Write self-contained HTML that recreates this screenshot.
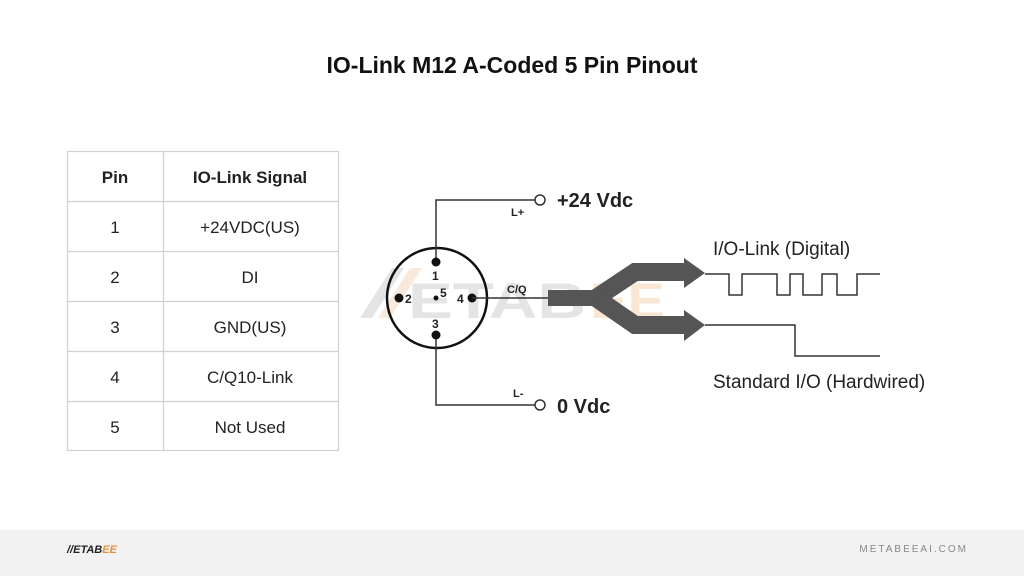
<!DOCTYPE html>
<html><head><meta charset="utf-8"><style>
html,body{margin:0;padding:0;background:#fff;}
body{width:1024px;height:576px;position:relative;overflow:hidden;font-family:"Liberation Sans",sans-serif;}
svg text{font-family:"Liberation Sans",sans-serif;}
</style></head><body>
<svg width="1024" height="576" viewBox="0 0 1024 576" xmlns="http://www.w3.org/2000/svg">
<rect x="0" y="530" width="1024" height="46" fill="#f2f2f2"/>
<text x="512" y="73" text-anchor="middle" font-size="23" font-weight="bold" fill="#111">IO-Link M12 A-Coded 5 Pin Pinout</text>
<!-- table -->
<g stroke="#d0d0d0" stroke-width="1.2" fill="none">
<rect x="67.5" y="151.5" width="271" height="299"/>
<line x1="163.5" y1="151" x2="163.5" y2="450"/>
<line x1="67" y1="201.5" x2="338" y2="201.5"/>
<line x1="67" y1="251.5" x2="338" y2="251.5"/>
<line x1="67" y1="301.5" x2="338" y2="301.5"/>
<line x1="67" y1="351.5" x2="338" y2="351.5"/>
<line x1="67" y1="401.5" x2="338" y2="401.5"/>
</g>
<g font-size="17" fill="#222" text-anchor="middle">
<text x="115" y="183" font-weight="bold">Pin</text>
<text x="250" y="183" font-weight="bold">IO-Link Signal</text>
<text x="115" y="233">1</text><text x="250" y="233">+24VDC(US)</text>
<text x="115" y="283">2</text><text x="250" y="283">DI</text>
<text x="115" y="333">3</text><text x="250" y="333">GND(US)</text>
<text x="115" y="383">4</text><text x="250" y="383">C/Q10-Link</text>
<text x="115" y="433">5</text><text x="250" y="433">Not Used</text>
</g>
<!-- watermark -->
<g opacity="0.22">
<polygon points="360,318 392,268 404,268 372,318" fill="#888"/>
<polygon points="378,318 410,268 422,268 390,318" fill="#e8a060"/>
<text x="408" y="318" font-size="50" font-weight="bold" fill="#888" textLength="178" lengthAdjust="spacingAndGlyphs">ETAB</text>
<text x="590" y="318" font-size="50" font-weight="bold" fill="#e8903a" textLength="75" lengthAdjust="spacingAndGlyphs">EE</text>
</g>
<!-- connector -->
<circle cx="437" cy="298" r="50" fill="none" stroke="#111" stroke-width="2.5"/>
<polyline points="436,262 436,200 535,200" fill="none" stroke="#333" stroke-width="1.5"/>
<polyline points="436,335 436,405 535,405" fill="none" stroke="#333" stroke-width="1.5"/>
<circle cx="540" cy="200" r="5" fill="#fff" stroke="#333" stroke-width="1.5"/>
<circle cx="540" cy="405" r="5" fill="#fff" stroke="#333" stroke-width="1.5"/>
<circle cx="436" cy="262" r="4.5" fill="#111"/>
<circle cx="436" cy="335" r="4.5" fill="#111"/>
<circle cx="399" cy="298" r="4.5" fill="#111"/>
<circle cx="472" cy="298" r="4.5" fill="#111"/>
<circle cx="436" cy="298" r="2.5" fill="#111"/>
<line x1="472" y1="298" x2="550" y2="298" stroke="#333" stroke-width="1.5"/>
<g font-size="12" font-weight="bold" fill="#222">
<text x="432" y="280">1</text><text x="405" y="303">2</text><text x="432" y="328">3</text>
<text x="457" y="303">4</text><text x="440" y="297">5</text>
<text x="507" y="293" font-size="11">C/Q</text>
<text x="511" y="216" font-size="11">L+</text>
<text x="513" y="397" font-size="11">L-</text>
</g>
<g font-size="20" font-weight="bold" fill="#222">
<text x="557" y="207">+24 Vdc</text>
<text x="557" y="413">0 Vdc</text>
</g>
<!-- fork -->
<g fill="none" stroke="#555" stroke-width="18" stroke-linejoin="miter">
<line x1="548" y1="298" x2="602" y2="298" stroke-width="16"/>
<polyline points="596,298 635,272 686,272"/>
<polyline points="596,298 635,325 686,325"/>
</g>
<g fill="#555">
<polygon points="684,258 705,273 684,288"/>
<polygon points="684,310 705,325 684,341"/>
</g>
<polyline points="705,274 729,274 729,295 742,295 742,274 777,274 777,295 790,295 790,274 803,274 803,295 822,295 822,274 837,274 837,295 857,295 857,274 880,274" fill="none" stroke="#333" stroke-width="1.5"/>
<polyline points="705,325 795,325 795,356 880,356" fill="none" stroke="#333" stroke-width="1.5"/>
<g font-size="19" fill="#222">
<text x="713" y="255">I/O-Link (Digital)</text>
<text x="713" y="388">Standard I/O (Hardwired)</text>
</g>
<!-- footer -->
<text x="67" y="553" font-size="11" font-weight="bold" fill="#222" font-style="italic">//ETAB<tspan fill="#e89040">EE</tspan></text>
<text x="968" y="552" font-size="10" fill="#888" text-anchor="end" letter-spacing="2">METABEEAI.COM</text>
</svg>
</body></html>
